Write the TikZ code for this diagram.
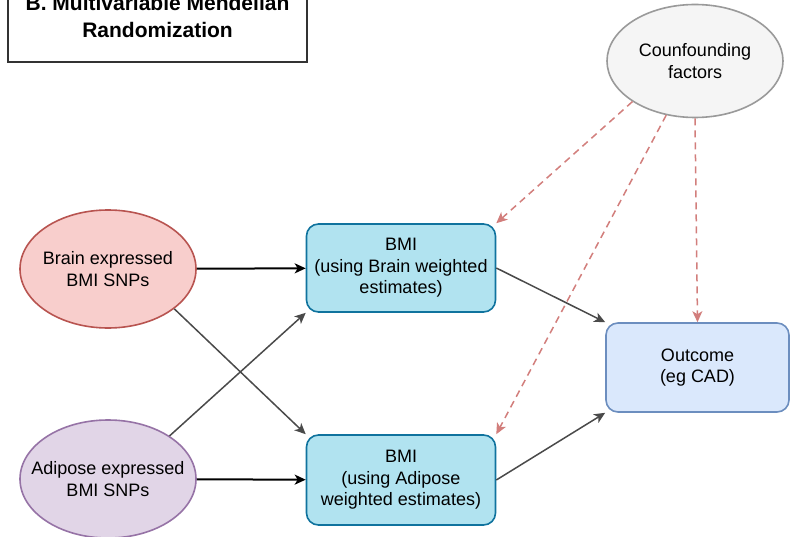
\documentclass[tikz,border=0pt]{standalone}
\usepackage{fontspec}
\setmainfont{Liberation Sans}
\usetikzlibrary{shapes.geometric,arrows.meta}
\definecolor{redfill}{HTML}{F8CECC}
\definecolor{redline}{HTML}{B85450}
\definecolor{purfill}{HTML}{E1D5E7}
\definecolor{purline}{HTML}{9673A6}
\definecolor{grayfill}{HTML}{F5F5F5}
\definecolor{grayline}{HTML}{9A9A9A}
\definecolor{cyanfill}{HTML}{B1E3F0}
\definecolor{cyanline}{HTML}{10739E}
\definecolor{bluefill}{HTML}{DAE8FC}
\definecolor{blueline}{HTML}{6C8EBF}
\definecolor{dashred}{HTML}{D27E7C}
\definecolor{darkgrayline}{HTML}{4A4A4A}
\tikzset{
  txt/.style={font=\fontsize{18}{21.5}\selectfont, align=center, text=black},
  ell/.style={ellipse, draw, line width=1.6pt, minimum width=176pt, minimum height=118pt, inner xsep=-22pt, inner ysep=0pt, txt},
  rbox/.style={rectangle, rounded corners=12pt, draw, line width=1.6pt, minimum width=189pt, minimum height=88pt, inner sep=0pt, txt},
  titlebox/.style={rectangle, draw=black!80, line width=1.4pt, fill=white, minimum width=299pt, minimum height=84pt, inner sep=0pt},
  tip/.style={-{Stealth[length=11pt,width=10pt,inset=3pt]}},
  mainarrow/.style={tip, draw=black, line width=2pt},
  crossarrow/.style={tip, draw=darkgrayline, line width=1.5pt},
  confarrow/.style={tip, draw=dashred, line width=1.5pt, dash pattern=on 7pt off 5pt},
}
\begin{document}
\begin{tikzpicture}[x=1pt,y=-1pt]
\useasboundingbox (0,0) rectangle (791,537);
\clip (0,0) rectangle (791,537);
\fill[white] (0,0) rectangle (791,537);

\node[titlebox] (titlebox) at (157.5,20) {};
\node[font=\fontsize{21}{27}\selectfont\bfseries, align=center] (title) at (157.5,16) {B. Multivariable Mendelian\\Randomization};

\node[ell, fill=grayfill, draw=grayline, minimum height=113pt] (conf) at (695,61) {Counfounding\\factors};
\node[ell, fill=redfill, draw=redline] (brain) at (108,269) {Brain expressed\\BMI SNPs};
\node[ell, fill=purfill, draw=purline] (adipose) at (108,479) {Adipose expressed\\BMI SNPs};

\node[rbox, fill=cyanfill, draw=cyanline] (bmi1) at (401,268) {BMI\\(using Brain weighted\\estimates)};
\node[rbox, fill=cyanfill, draw=cyanline, minimum height=90pt] (bmi2) at (401,480) {BMI\\(using Adipose\\weighted estimates)};
\node[rbox, fill=bluefill, draw=blueline, minimum width=183pt, minimum height=89pt] (outcome) at (697.5,367.5) {Outcome\\(eg CAD)};

\draw[mainarrow] (brain) -- (bmi1);
\draw[mainarrow] (adipose) -- (bmi2);
\draw[crossarrow] (brain.-31) -- (bmi2.north west);
\draw[crossarrow] (adipose.35) -- (bmi1.south west);
\draw[crossarrow] (bmi1.east) -- (outcome.north west);
\draw[crossarrow] (bmi2.east) -- (outcome.south west);

\draw[confarrow] (conf.213) -- (bmi1.north east);
\draw[confarrow] (conf.242) -- (bmi2.north east);
\draw[confarrow] (conf.south) -- (outcome.north);
\end{tikzpicture}
\end{document}
